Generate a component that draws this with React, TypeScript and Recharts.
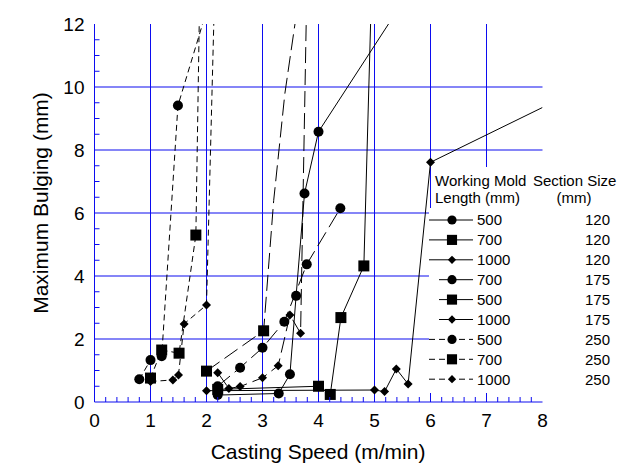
import { ComposedChart, Line, XAxis, YAxis, ReferenceLine, Label } from "recharts";

const BLUE = "#0c0cf0";
const FONT = "Arial, 'Liberation Sans', sans-serif";

// axis ticks and labels
const xLabels = [0, 1, 2, 3, 4, 5, 6, 7, 8];
const yLabels = [0, 2, 4, 6, 8, 10, 12];
const xGrid = [1, 2, 3, 4, 5, 6, 7];
const yGrid = [2, 4, 6, 8, 10];
const xMinor = Array.from({ length: 41 }, (_, i) => Math.round(i * 2) / 10);
const yMinor = Array.from({ length: 25 }, (_, i) => i * 0.5);

// legend columns
const moldLengths = ["500", "700", "1000", "700", "500", "1000", "500", "700", "1000"];
const sectionSizes = ["120", "120", "120", "175", "175", "175", "250", "250", "250"];

// measured points [speed, bulging]; *Tail = unmarked line continuing to the top
const m500s120 = [[2.2, 0.22], [3.29, 0.27], [3.49, 0.88], [3.6, 3.37], [3.75, 6.62], [4.0, 8.58]];
const m500s120Tail = [[5.25, 12]];
const m700s120 = [[2.2, 0.4], [4.0, 0.5], [4.21, 0.24], [4.4, 2.68], [4.81, 4.32]];
const m700s120Tail = [[4.93, 12]];
const m1000s120 = [[2.0, 0.36], [5.0, 0.38], [5.18, 0.33], [5.39, 1.05], [5.6, 0.57], [6.0, 7.61]];
const m1000s120Tail = [[8, 9.35]];

const m700s175 = [[2.2, 0.5], [2.6, 1.09], [3.0, 1.72], [3.39, 2.55], [3.79, 4.37], [4.39, 6.15]];
const m700s175Tail: number[][] = [];
const m500s175 = [[2.0, 0.98], [3.02, 2.26]];
const m500s175Tail = [[3.2, 6.4], [3.4, 9.8], [3.58, 12]];
const m1000s175 = [[2.2, 0.93], [2.4, 0.43], [2.6, 0.49], [3.0, 0.77], [3.28, 1.15], [3.49, 2.76], [3.68, 2.18]];
const m1000s175Tail = [[3.78, 12]];

const m500s250 = [[0.8, 0.72], [1.0, 1.33], [1.2, 1.45], [1.49, 9.41]];
const m500s250Tail = [[1.93, 12]];
const m700s250 = [[1.0, 0.76], [1.2, 1.65], [1.51, 1.55], [1.81, 5.3]];
const m700s250Tail = [[1.87, 12]];
const m1000s250 = [[1.0, 0.65], [1.4, 0.7], [1.5, 0.86], [1.6, 2.48], [2.0, 3.08]];
const m1000s250Tail = [[2.13, 12]];

const series = [
  { pts: m500s120, tail: m500s120Tail, mark: "circle", dash: undefined, indent: 0 },
  { pts: m700s120, tail: m700s120Tail, mark: "square", dash: undefined, indent: 0 },
  { pts: m1000s120, tail: m1000s120Tail, mark: "diamond", dash: undefined, indent: 0 },
  { pts: m700s175, tail: m700s175Tail, mark: "circle", dash: "16 6", indent: 10 },
  { pts: m500s175, tail: m500s175Tail, mark: "square", dash: "16 6", indent: 10 },
  { pts: m1000s175, tail: m1000s175Tail, mark: "diamond", dash: "16 6", indent: 10 },
  { pts: m500s250, tail: m500s250Tail, mark: "circle", dash: "6 4", indent: 0 },
  { pts: m700s250, tail: m700s250Tail, mark: "square", dash: "6 4", indent: 0 },
  { pts: m1000s250, tail: m1000s250Tail, mark: "diamond", dash: "6 4", indent: 0 },
];

const toXY = (a: number[][]) => a.map(([x, y]) => ({ x, y }));

function Marker({ kind, cx, cy, s = 1 }: { kind: string; cx: number; cy: number; s?: number }) {
  if (kind === "circle") return <circle cx={cx} cy={cy} r={5 * s} fill="#000" />;
  if (kind === "square")
    return <rect x={cx - 5.5 * s} y={cy - 5.5 * s} width={11 * s} height={11 * s} fill="#000" />;
  const d = 4.5 * s;
  return <polygon points={`${cx},${cy - d} ${cx + d},${cy} ${cx},${cy + d} ${cx - d},${cy}`} fill="#000" />;
}

const dotFor = (kind: string, n: number) => (p: any) => {
  const { cx, cy, index } = p;
  if (index >= n || cx == null || cy == null) return <g key={`e${index}`} />;
  return <Marker key={`m${index}`} kind={kind} cx={cx} cy={cy} />;
};

const isMajor = (v: number) => Math.abs(v - Math.round(v)) < 1e-6;

const BottomTick = (p: any) => {
  const v = p.payload.value;
  return (
    <g>
      {!isMajor(v) && <line x1={p.x} x2={p.x} y1={p.y} y2={p.y - 5} stroke={BLUE} />}
      {isMajor(v) && (
        <text x={p.x} y={p.y + 25} textAnchor="middle" fontSize={19} fontFamily={FONT} fill="#000">
          {Math.round(v)}
        </text>
      )}
    </g>
  );
};

const TopTick = (p: any) =>
  isMajor(p.payload.value) ? <g /> : <line x1={p.x} x2={p.x} y1={p.y} y2={p.y + 5} stroke={BLUE} />;

const LeftTick = (p: any) => {
  const v = p.payload.value;
  const lab = yLabels.includes(v);
  return (
    <g>
      {!lab && <line x1={p.x} x2={p.x + 5} y1={p.y} y2={p.y} stroke={BLUE} />}
      {lab && (
        <text x={p.x - 10} y={p.y + 7} textAnchor="end" fontSize={19} fontFamily={FONT} fill="#000">
          {v}
        </text>
      )}
    </g>
  );
};

const RightTick = (p: any) =>
  yLabels.includes(p.payload.value) ? <g /> : <line x1={p.x} x2={p.x - 5} y1={p.y} y2={p.y} stroke={BLUE} />;

function LegendBox() {
  const rowY = (i: number) => 220 + i * 19.9;
  return (
    <svg width={631} height={466} style={{ position: "absolute", left: 0, top: 0, pointerEvents: "none" }}>
      <rect x={433} y={167} width={198} height={42} fill="#fff" />
      <rect x={429} y={208} width={202} height={185} fill="#fff" />
      <g fontFamily={FONT} fontSize={15} fill="#000">
        <text x={435} y={185.5}>Working Mold</text>
        <text x={435} y={203}>Length (mm)</text>
        <text x={533} y={185.5}>Section Size</text>
        <text x={574} y={203} textAnchor="middle">(mm)</text>
        {series.map((s, i) => (
          <g key={i}>
            <line
              x1={429 + s.indent}
              x2={473}
              y1={rowY(i)}
              y2={rowY(i)}
              stroke="#000"
              strokeDasharray={s.dash === "6 4" ? "6 4" : undefined}
            />
            <Marker kind={s.mark} cx={452} cy={rowY(i)} s={0.92} />
            <text x={477} y={rowY(i) + 5.4}>{moldLengths[i]}</text>
            <text x={610} y={rowY(i) + 5.4} textAnchor="end">{sectionSizes[i]}</text>
          </g>
        ))}
      </g>
    </svg>
  );
}

export default function App() {
  return (
    <div style={{ position: "absolute", left: 0, top: 0, width: 631, height: 466, background: "#fff" }}>
      <ComposedChart width={631} height={466} margin={{ top: 24, right: 88.5, bottom: 24, left: 34.5 }}>
        <XAxis
          dataKey="x"
          type="number"
          domain={[0, 8]}
          ticks={xMinor}
          interval={0}
          height={40}
          tickSize={0}
          tickMargin={0}
          tickLine={false}
          axisLine={{ stroke: BLUE, strokeWidth: 1.2 }}
          tick={BottomTick}
          allowDataOverflow
        >
          <Label
            content={() => (
              <text x={318} y={459} textAnchor="middle" fontSize={21} fontFamily={FONT} fill="#000">
                Casting Speed (m/min)
              </text>
            )}
          />
        </XAxis>
        <XAxis
          xAxisId="top"
          orientation="top"
          type="number"
          domain={[0, 8]}
          ticks={xMinor}
          interval={0}
          height={0}
          tickSize={0}
          tickMargin={0}
          tickLine={false}
          axisLine={{ stroke: BLUE, strokeWidth: 1.2 }}
          tick={TopTick}
        />
        <YAxis
          type="number"
          domain={[0, 12]}
          ticks={yMinor}
          interval={0}
          width={60}
          tickSize={0}
          tickMargin={0}
          tickLine={false}
          axisLine={{ stroke: BLUE }}
          tick={LeftTick}
          allowDataOverflow
        >
          <Label
            content={() => (
              <text
                transform="translate(48, 203) rotate(-90)"
                textAnchor="middle"
                fontSize={21}
                fontFamily={FONT}
                fill="#000"
              >
                Maximum Bulging (mm)
              </text>
            )}
          />
        </YAxis>
        <YAxis
          yAxisId="right"
          orientation="right"
          type="number"
          domain={[0, 12]}
          ticks={yMinor}
          interval={0}
          width={0}
          tickSize={0}
          tickMargin={0}
          tickLine={false}
          axisLine={{ stroke: BLUE }}
          tick={RightTick}
        />

        {/* blue grid at the labelled values */}
        {xGrid.map((v) => (
          <ReferenceLine key={`gx${v}`} x={v} stroke={BLUE} strokeOpacity={1} />
        ))}
        {yGrid.map((v) => (
          <ReferenceLine key={`gy${v}`} y={v} stroke={BLUE} strokeWidth={1.2} strokeOpacity={1} />
        ))}

        {series.map((s, i) => (
          <Line
            key={i}
            data={toXY([...s.pts, ...s.tail])}
            dataKey="y"
            type="linear"
            stroke="#000"
            strokeWidth={1}
            strokeDasharray={s.dash}
            dot={dotFor(s.mark, s.pts.length)}
            activeDot={false}
            isAnimationActive={false}
          />
        ))}
      </ComposedChart>
      <LegendBox />
    </div>
  );
}
